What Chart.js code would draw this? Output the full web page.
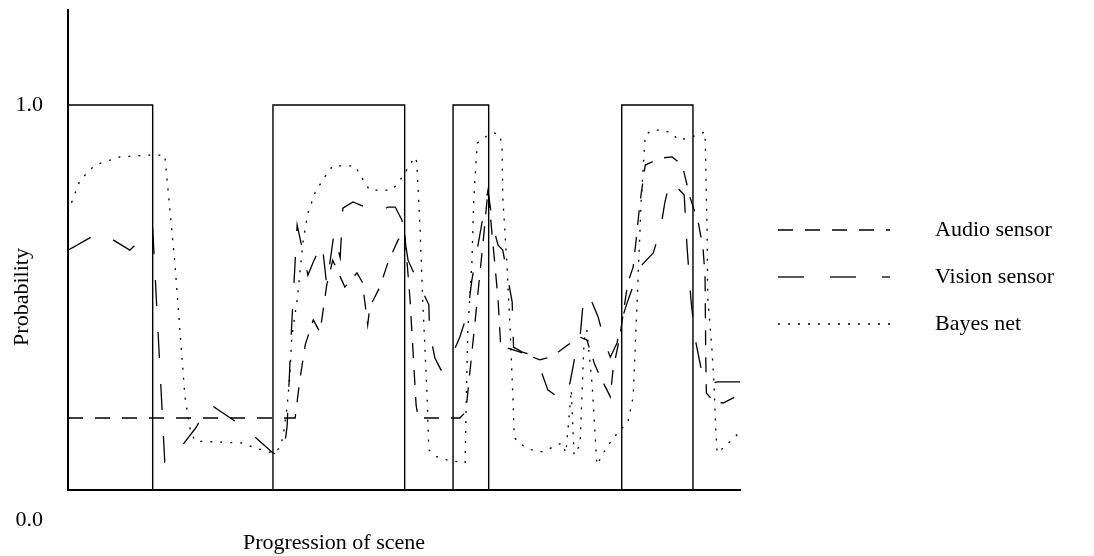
<!DOCTYPE html>
<html>
<head>
<meta charset="utf-8">
<script src="https://cdn.jsdelivr.net/npm/chart.js@4.4.0/dist/chart.umd.min.js"></script>
<style>
    body { margin: 0; background: #fff; }
    #wrap { width: 1094px; height: 556px; position: relative; }
</style>
</head>
<body>
<div id="wrap"><canvas id="myLineChart"></canvas></div>
<script>
// x = progression of scene (0..100), y = probability
const truthX = [0, 12.6, 12.6, 30.5, 30.5, 50.1, 50.1, 57.3, 57.3, 62.6, 62.6, 82.4, 82.4, 93.0, 93.0, 100];
const truthY = [1, 1, 0, 0, 1, 1, 0, 0, 1, 1, 0, 0, 1, 1, 0, 0];

const audioX = [0, 33.8, 34.5, 35.3, 36.5, 37.5, 38.5, 39.4, 41.2, 43.0, 43.8, 44.6, 44.9, 46.4, 47.6, 49.1, 50.1, 50.9, 51.8, 52.1,
    58.3, 59.2, 60.6, 61.8, 62.5, 63.5, 64.0, 64.4, 65.3, 67.3, 70.2, 71.3, 72.8, 74.4, 76.2, 77.2, 78.4, 79.2, 80.2, 80.7, 81.1,
    82.1, 83.3, 84.1, 84.7, 85.1, 85.9, 88.1, 89.9, 91.4, 92.6, 93.8, 94.5, 94.8, 94.9, 95.0, 96.1, 97.5, 99.3, 100];
const audioY = [0.187, 0.187, 0.286, 0.377, 0.442, 0.410, 0.532, 0.597, 0.527, 0.564, 0.540, 0.429, 0.475, 0.527, 0.590, 0.649, 0.670, 0.494, 0.221, 0.187,
    0.187, 0.203, 0.442, 0.649, 0.779, 0.590, 0.494, 0.371, 0.369, 0.358, 0.338, 0.343, 0.356, 0.377, 0.397, 0.390, 0.325, 0.294, 0.260, 0.242, 0.312,
    0.397, 0.538, 0.579, 0.675, 0.745, 0.844, 0.862, 0.865, 0.844, 0.758, 0.694, 0.629, 0.553, 0.351, 0.252, 0.229, 0.226, 0.242, 0.244];

const visionX = [0, 4.8, 9.2, 12.6, 14.4, 16.7, 19.0, 21.1, 24.6, 27.8, 30.5, 32.0, 32.6, 33.3, 34.1, 35.3, 35.7, 36.5, 37.8, 38.5,
    39.6, 40.5, 40.9, 42.4, 44.2, 46.1, 46.9, 47.6, 48.7, 49.7, 50.6, 52.1, 53.7, 53.8, 54.6, 55.5, 56.7, 58.3, 59.5, 60.1,
    61.8, 62.5, 63.2, 64.0, 64.7, 66.1, 66.3, 67.6, 69.2, 70.2, 71.4, 73.5, 74.7, 75.4, 76.2, 76.6, 77.4, 78.9, 79.9, 80.7,
    81.7, 82.4, 83.2, 85.1, 87.1, 88.2, 88.8, 89.6, 91.7, 92.1, 92.7, 93.3, 94.5, 95.2, 96.6, 100];
const visionY = [0.623, 0.670, 0.623, 0.681, 0.073, 0.109, 0.161, 0.223, 0.182, 0.138, 0.096, 0.088, 0.164, 0.434, 0.688, 0.592, 0.558, 0.592, 0.642, 0.532,
    0.668, 0.603, 0.732, 0.748, 0.735, 0.719, 0.727, 0.735, 0.735, 0.701, 0.597, 0.540, 0.481, 0.410, 0.343, 0.312, 0.332, 0.397, 0.462, 0.545,
    0.714, 0.779, 0.688, 0.636, 0.623, 0.488, 0.371, 0.358, 0.351, 0.319, 0.260, 0.234, 0.278, 0.343, 0.397, 0.475, 0.512, 0.449, 0.382, 0.345,
    0.382, 0.442, 0.486, 0.579, 0.616, 0.681, 0.745, 0.805, 0.766, 0.636, 0.494, 0.395, 0.291, 0.273, 0.281, 0.281];

const bayesX = [0, 1.8, 4.0, 7.7, 12.2, 14.4, 15.9, 17.4, 18.2, 18.9, 26.0, 27.8, 30.5, 31.5, 32.0, 32.6, 33.0, 33.3, 34.1, 35.0,
    35.7, 36.8, 38.2, 39.4, 42.7, 44.2, 44.9, 48.2, 49.1, 50.1, 51.6, 51.9, 52.4, 52.8, 53.4, 53.7, 54.9, 56.4, 59.1, 59.2,
    59.5, 60.1, 60.4, 60.9, 62.5, 63.5, 64.3, 64.6, 64.7, 65.3, 65.8, 66.2, 66.4, 67.0, 69.0, 70.7, 72.2, 73.5, 74.1, 74.9,
    75.3, 76.2, 76.8, 77.2, 78.0, 78.7, 80.2, 82.1, 83.3, 84.1, 84.7, 85.3, 85.9, 86.9, 88.4, 89.9, 90.8, 92.3, 93.6, 94.8,
    94.9, 95.1, 95.2, 95.8, 96.1, 96.4, 96.6, 97.5, 98.8, 100];
const bayesY = [0.722, 0.805, 0.844, 0.865, 0.870, 0.870, 0.590, 0.242, 0.156, 0.127, 0.122, 0.109, 0.096, 0.109, 0.138, 0.216, 0.294, 0.397, 0.494, 0.649,
    0.719, 0.774, 0.813, 0.842, 0.842, 0.797, 0.779, 0.779, 0.797, 0.823, 0.865, 0.852, 0.675, 0.486, 0.260, 0.104, 0.086, 0.078, 0.070, 0.182,
    0.416, 0.590, 0.761, 0.901, 0.922, 0.927, 0.922, 0.883, 0.761, 0.590, 0.416, 0.242, 0.138, 0.122, 0.104, 0.099, 0.112, 0.122, 0.096, 0.260,
    0.091, 0.117, 0.390, 0.416, 0.273, 0.065, 0.112, 0.156, 0.174, 0.242, 0.494, 0.753, 0.922, 0.935, 0.935, 0.927, 0.909, 0.914, 0.922, 0.930,
    0.849, 0.675, 0.501, 0.371, 0.286, 0.156, 0.096, 0.109, 0.130, 0.151];

const tickValues = [0, 1];
const tickLabels = ['0.0', '1.0'];
const seriesNames = ['Audio sensor', 'Vision sensor', 'Bayes net'];

const pts = (xs, ys) => xs.map((x, i) => ({ x: x, y: ys[i] }));
const serif = '"Liberation Serif", "Times New Roman", serif';

// legend, tick labels and axis titles drawn by hand to match the original figure
const extras = {
    id: 'extras',
    afterDraw(chart) {
        const ctx = chart.ctx;
        const ys = chart.scales.y;
        ctx.save();
        ctx.fillStyle = '#000';
        ctx.font = '22px ' + serif;
        ctx.textBaseline = 'middle';

        // the 0.0 label sits below the axis line in the original
        ctx.textAlign = 'right';
        tickValues.forEach((v, i) => {
            const py = ys.getPixelForValue(v) + (v === 0 ? 30 : 0);
            ctx.fillText(tickLabels[i], 43, py);
        });

        ctx.textAlign = 'center';
        ctx.fillText('Progression of scene', 334, 543);
        ctx.save();
        ctx.translate(22, 297);
        ctx.rotate(-Math.PI / 2);
        ctx.fillText('Probability', 0, 0);
        ctx.restore();

        ctx.textAlign = 'left';
        const rows = [230, 277, 324];
        chart.data.datasets.forEach((ds) => {
            if (!ds.inLegend) return;
            const yy = rows[ds.legendRow];
            ctx.beginPath();
            ctx.setLineDash(ds.borderDash || []);
            ctx.lineWidth = ds.borderWidth;
            ctx.strokeStyle = '#000';
            ctx.moveTo(778, yy);
            ctx.lineTo(890, yy);
            ctx.stroke();
            ctx.fillText(ds.label, 935, yy);
        });
        ctx.restore();
    }
};

const ctxLine = document.getElementById('myLineChart').getContext('2d');
const chart = new Chart(ctxLine, {
    type: 'line',
    data: {
        datasets: [
            {
                label: 'Ground truth',
                data: pts(truthX, truthY),
                borderColor: '#000',
                borderWidth: 1.4,
                inLegend: false
            },
            {
                label: seriesNames[0],
                data: pts(audioX, audioY),
                borderColor: '#000',
                borderWidth: 1.3,
                borderDash: [15, 12],
                inLegend: true,
                legendRow: 0
            },
            {
                label: seriesNames[1],
                data: pts(visionX, visionY),
                borderColor: '#000',
                borderWidth: 1.3,
                borderDash: [26, 26],
                inLegend: true,
                legendRow: 1
            },
            {
                label: seriesNames[2],
                data: pts(bayesX, bayesY),
                borderColor: '#000',
                borderWidth: 1.3,
                borderDash: [2, 8],
                inLegend: true,
                legendRow: 2
            }
        ]
    },
    options: {
        responsive: true,
        maintainAspectRatio: false,
        animation: false,
        layout: { padding: { top: 10, right: 354, left: 0, bottom: 0 } },
        elements: { point: { radius: 0 }, line: { tension: 0, fill: false } },
        plugins: {
            legend: { display: false },
            tooltip: { enabled: false }
        },
        scales: {
            x: {
                type: 'linear',
                min: 0,
                max: 100,
                grid: { display: false, drawTicks: false },
                border: { display: true, color: '#000', width: 2 },
                ticks: { display: false },
                afterFit: (s) => { s.height = 66; }
            },
            y: {
                min: 0,
                max: 480 / 385,
                grid: { display: false, drawTicks: false },
                border: { display: true, color: '#000', width: 2 },
                afterBuildTicks: (s) => { s.ticks = tickValues.map(v => ({ value: v })); },
                ticks: { display: false },
                afterFit: (s) => { s.width = 68; }
            }
        }
    },
    plugins: [extras]
});
</script>
</body>
</html>
